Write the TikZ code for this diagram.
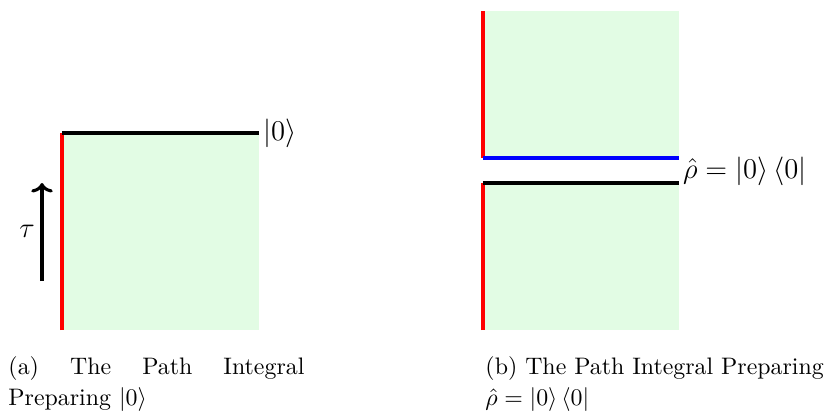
\documentclass[tikz,border=0pt]{standalone}
\usepackage{amsmath,amssymb}
\usetikzlibrary{arrows.meta,positioning}
\definecolor{sheetgreen}{RGB}{226,252,228}

\begin{document}
\begin{tikzpicture}[
  x=0.419pt, y=-0.419pt,
  sheet/.style={fill=sheetgreen},
  edge/.style={line width=1.3pt},
  state/.style={anchor=west, inner sep=1.5pt, font=\large},
  caption/.style={anchor=north west, inner sep=0pt, font=\fontsize{10}{13.2}\selectfont},
]
\useasboundingbox (0,0) rectangle (826,412);
% (a) path integral preparing the vacuum
\fill[sheet] (62,133) rectangle (259,330);
\draw[edge, red] (62,330) -- (62,133);
\draw[edge] (62,133) -- (259,133);
\node[state] (vac) at (259,133) {$|0\rangle$};
\coordinate (tauTail) at (42,281);
\coordinate (tauHead) at (42,183);
\draw[edge, -{Computer Modern Rightarrow[width=9pt,length=4pt]}] (tauTail) -- (tauHead);
\node[inner sep=0pt, font=\large] (tau) at (27,231) {$\tau$};
\node[caption, text width=124pt, align=justify] (capA) at (8,356)
  {(a) The Path Integral\linebreak Preparing $|0\rangle$};

% (b) path integral preparing the density matrix
\fill[sheet] (483,11) rectangle (679,158);
\fill[sheet] (483,183) rectangle (679,330);
\draw[edge, red] (483,11) -- (483,158);
\draw[edge, red] (483,330) -- (483,183);
\draw[edge, blue] (483,158) -- (679,158);
\draw[edge] (483,183) -- (679,183);
\node[state] (rho) at (679,171)
  {$\hat\rho = \left|0\right\rangle \left\langle 0\right|$};
\node[caption, align=left] (capB) at (485,356)
  {(b) The Path Integral Preparing\\ $\hat\rho = \left|0\right\rangle \left\langle 0\right|$};
\end{tikzpicture}
\end{document}
